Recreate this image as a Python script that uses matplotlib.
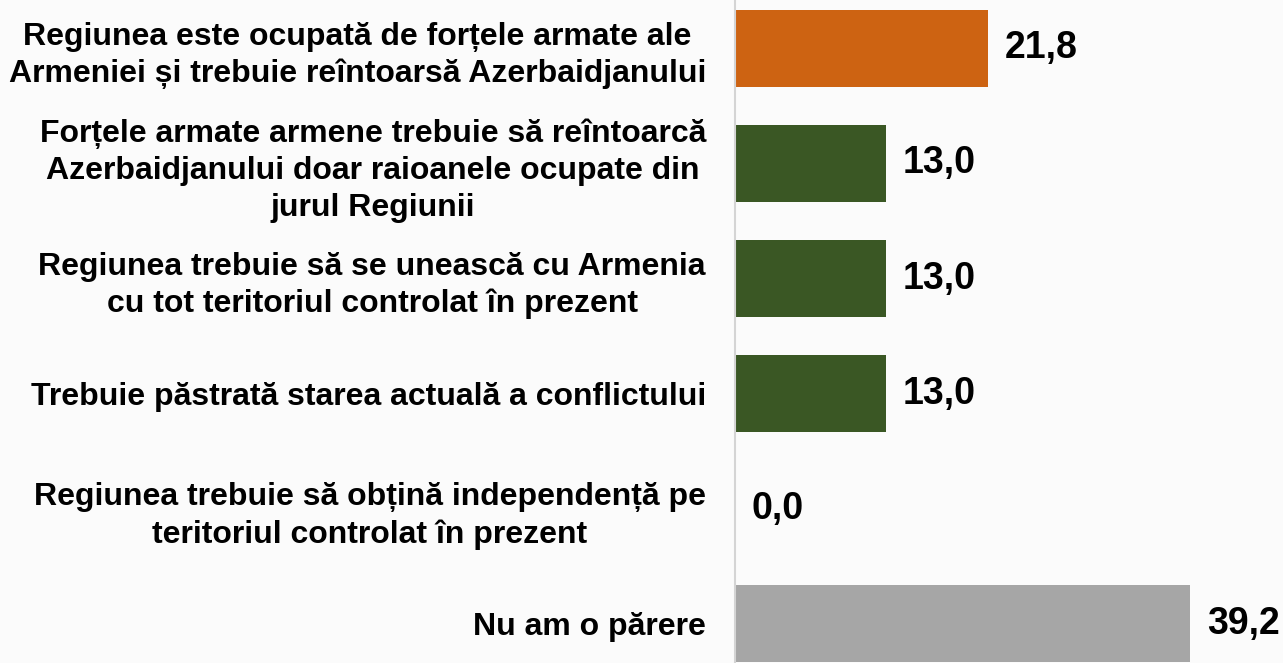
import matplotlib.pyplot as plt

# Date
etichete = [
    "Regiunea este ocupată de forțele armate ale\nArmeniei și trebuie reîntoarsă Azerbaidjanului",
    "Forțele armate armene trebuie să reîntoarcă\nAzerbaidjanului doar raioanele ocupate din\njurul Regiunii",
    "Regiunea trebuie să se unească cu Armenia\ncu tot teritoriul controlat în prezent",
    "Trebuie păstrată starea actuală a conflictului",
    "Regiunea trebuie să obțină independență pe\nteritoriul controlat în prezent",
    "Nu am o părere",
]
valori = [21.8, 13.0, 13.0, 13.0, 0.0, 39.2]
culori = ["#CD6312", "#3A5724", "#3A5724", "#3A5724", "#3A5724", "#A6A6A6"]

plt.rcParams['font.family'] = ['Liberation Sans', 'DejaVu Sans']

fig = plt.figure(figsize=(12.83, 6.63), dpi=100)
fig.patch.set_facecolor("#fbfbfb")

ax = fig.add_axes([0.573, 0.0, 0.427, 1.0])
ax.set_facecolor("none")

pozitii = list(range(len(valori)))
ax.barh(pozitii, valori, height=0.67, color=culori)

for p, v in zip(pozitii, valori):
    ax.annotate(f"{v:.1f}".replace(".", ","), xy=(v, p), xytext=(12, 0),
                textcoords="offset points", va="center", ha="left",
                fontsize=27, fontweight="bold", color="black")

ax.set_xlim(0, 47.2)
ax.set_ylim(5.34, -0.42)
ax.set_yticks(pozitii)
ax.set_yticklabels(etichete, fontsize=23, fontweight="bold",
                   multialignment="center", linespacing=1.3)
ax.tick_params(axis="y", length=0, pad=21)
ax.set_xticks([])

for s in ["top", "right", "bottom"]:
    ax.spines[s].set_visible(False)
ax.spines["left"].set_color("#d4d4d4")
ax.spines["left"].set_linewidth(1.5)

fig.savefig("out.png", dpi=100, facecolor=fig.get_facecolor())
